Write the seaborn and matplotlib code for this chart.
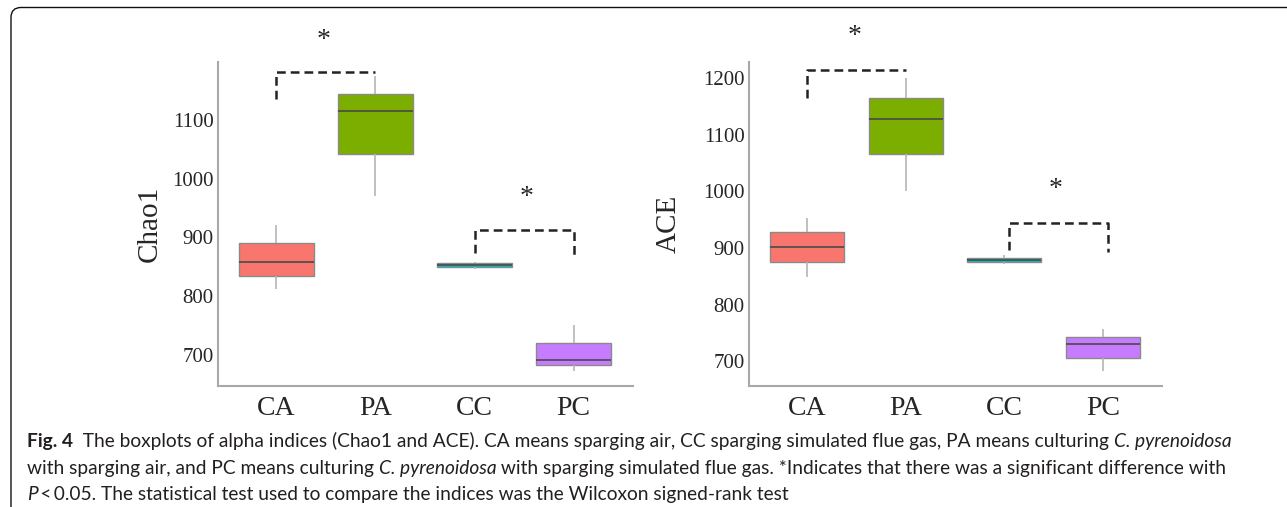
import numpy as np
import pandas as pd
import seaborn as sns
import matplotlib.pyplot as plt
from matplotlib.patches import FancyBboxPatch
from matplotlib.transforms import IdentityTransform

groups = ["CA", "PA", "CC", "PC"]
colors = ["#F8766D", "#7CAE00", "#00BFC4", "#C77CFF"]

# five-number summaries (min, q1, median, q3, max)
chao1_CA = [813, 834, 858, 890, 921]
chao1_PA = [971, 1043, 1115, 1145, 1175]
chao1_CC = [847, 850, 853, 857, 859]
chao1_PC = [673, 682, 691, 721, 751]

ace_CA = [848, 875, 902, 928, 953]
ace_PA = [1001, 1066, 1129, 1166, 1200]
ace_CC = [872, 876, 879, 883, 888]
ace_PC = [682, 705, 730, 743, 757]

# significance brackets: (x0, x1, leg bottom left, top, leg bottom right)
chao1_brackets = [(0, 1, 1136, 1182, None), (2, 3, 873, 912, 871)]
chao1_stars = [(0.48, 1236), (2.53, 968)]
ace_brackets = [(0, 1, 1166, 1214, None), (2.05, 3.05, 896, 944, 893)]
ace_stars = [(0.48, 1274), (2.52, 1003)]


def make_df(vals):
    rows = []
    for g, v in zip(groups, vals):
        for x in v:
            rows.append((g, x))
    return pd.DataFrame(rows, columns=["group", "value"])


sns.set_style("white")
plt.rcParams["font.family"] = ["Liberation Serif", "DejaVu Serif"]

fig = plt.figure(figsize=(12.87, 5.07), dpi=100)
ax1 = fig.add_axes([218 / 1287, 1 - 386 / 507, 415 / 1287, 324 / 507])
ax2 = fig.add_axes([749 / 1287, 1 - 386 / 507, 413 / 1287, 324 / 507])

panels = [
    (ax1, make_df([chao1_CA, chao1_PA, chao1_CC, chao1_PC]), "Chao1",
     (647, 1199), [700, 800, 900, 1000, 1100], chao1_brackets, chao1_stars, -0.133),
    (ax2, make_df([ace_CA, ace_PA, ace_CC, ace_PC]), "ACE",
     (656, 1229), [700, 800, 900, 1000, 1100, 1200], ace_brackets, ace_stars, -0.163),
]

for ax, df, ylab, ylim, yticks, brackets, stars, lx in panels:
    sns.boxplot(data=df, x="group", y="value", hue="group", order=groups,
                palette=colors, saturation=1, width=0.75, showcaps=False, whis=1.5,
                linewidth=1.0, legend=False, ax=ax,
                boxprops=dict(edgecolor="#8a8a8a"),
                medianprops=dict(color="#4a4a4a", linewidth=1.2),
                whiskerprops=dict(color="#b5b5b5", linewidth=1.2))
    ax.set_xlim(-0.59, 3.6)
    ax.set_ylim(*ylim)
    ax.set_yticks(yticks)
    ax.set_xlabel("")
    ax.set_ylabel(ylab, fontsize=21)
    ax.yaxis.set_label_coords(lx, 0.5)
    for s in ["top", "right"]:
        ax.spines[s].set_visible(False)
    for s in ["left", "bottom"]:
        ax.spines[s].set_color("#a8a8a8")
        ax.spines[s].set_linewidth(1.5)
    ax.tick_params(axis="x", labelsize=20, length=4, color="#a8a8a8", pad=3)
    ax.tick_params(axis="y", labelsize=15, length=0, pad=3)

    for x0, x1, yl, yt, yr in brackets:
        xs = [x0, x0, x1]
        ys = [yl, yt, yt]
        if yr is not None:
            xs.append(x1)
            ys.append(yr)
        ax.plot(xs, ys, ls=(0, (3.5, 2)), color="#222222", lw=1.8, clip_on=False)
    for sx, sy in stars:
        ax.text(sx, sy, "*", ha="center", va="center", fontsize=20, clip_on=False)

# rounded frame around the figure block
frame = FancyBboxPatch((11, -30), 1400, 499.5 + 30, boxstyle="round,pad=0,rounding_size=10",
                       transform=IdentityTransform(), fill=False, edgecolor="#111111", lw=1.0)
fig.add_artist(frame)

# caption with mixed styles
cap_font = ["Lato", "DejaVu Sans"]
cap_size = 13.8
cap_color = "#231f20"
caption_lines = [
    [("Fig. 4", "bold", "normal"),
     ("  The boxplots of alpha indices (Chao1 and ACE). CA means sparging air, CC sparging simulated flue gas, PA means culturing ", "normal", "normal"),
     ("C. pyrenoidosa", "normal", "italic")],
    [("with sparging air, and PC means culturing ", "normal", "normal"),
     ("C. pyrenoidosa", "normal", "italic"),
     (" with sparging simulated flue gas. *Indicates that there was a significant difference with", "normal", "normal")],
    [("P", "normal", "italic"),
     ("\u2009<\u20090.05. The statistical test used to compare the indices was the Wilcoxon signed-rank test", "normal", "normal")],
]
baselines = [447, 474, 500]

renderer = fig.canvas.get_renderer()
for line, yb in zip(caption_lines, baselines):
    x = 27
    for txt, weight, style in line:
        t = fig.text(x, 507 - yb, txt, transform=IdentityTransform(), family=cap_font,
                     fontsize=cap_size, weight=weight, style=style, color=cap_color,
                     va="baseline", ha="left")
        bb = t.get_window_extent(renderer=renderer)
        x = bb.x1

fig.savefig("out.png", dpi=100)
